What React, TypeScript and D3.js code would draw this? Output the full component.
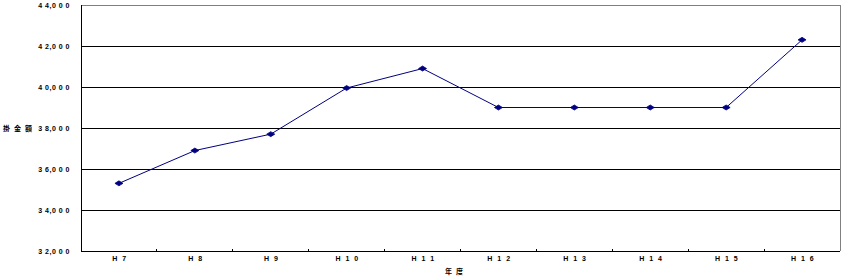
import React from "react";
import * as d3 from "d3";

const categories = ["H7", "H8", "H9", "H10", "H11", "H12", "H13", "H14", "H15", "H16"];
const values = [35300, 36900, 37700, 39950, 40900, 39000, 39000, 39000, 39000, 42300];
const yTicks = [32000, 34000, 36000, 38000, 40000, 42000, 44000];
const yTitle = "掛金額";
const xTitle = "年度";

const W = 844, H = 277;
const m = { left: 81, right: 4, top: 5, bottom: 26 };

function spaced(s: string) {
  return s.split("").join(" ");
}

export default function App() {
  const x = d3.scaleBand().domain(categories).range([m.left, W - m.right]).padding(0);
  const y = d3.scaleLinear().domain([32000, 44000]).range([H - m.bottom, m.top]);
  const line = d3.line<number>()
    .x((_, i) => (x(categories[i]) as number) + x.bandwidth() / 2)
    .y((d) => y(d));
  const font = "'Liberation Sans', Arial, sans-serif";
  const bounds = categories.map((c) => x(c) as number).slice(1);
  return (
    <svg width={W} height={H} style={{ position: "absolute", left: 0, top: 0, background: "#fff" }}>
      <rect x={0} y={0} width={W} height={H} fill="#fff" />
      {yTicks.map((t) => (
        <line key={t} x1={m.left} x2={W - m.right} y1={y(t)} y2={y(t)}
          stroke={t === 44000 ? "#808080" : "#000"} strokeWidth={1} shapeRendering="crispEdges" />
      ))}
      <line x1={W - m.right} x2={W - m.right} y1={m.top} y2={H - m.bottom} stroke="#808080" shapeRendering="crispEdges" />
      <line x1={m.left} x2={m.left} y1={m.top} y2={H - m.bottom} stroke="#000" shapeRendering="crispEdges" />
      <line x1={m.left} x2={W - m.right} y1={H - m.bottom} y2={H - m.bottom} stroke="#000" shapeRendering="crispEdges" />
      {bounds.map((b, i) => (
        <line key={i} x1={b} x2={b} y1={H - m.bottom} y2={H - m.bottom - 2} stroke="#000" shapeRendering="crispEdges" />
      ))}
      {yTicks.map((t) => (
        <text key={t} x={70} y={y(t) + 2.5} textAnchor="end" fontFamily={font} fontSize={7}
          fontWeight="bold" letterSpacing={0.5} fill="#000">
          {spaced(d3.format(",")(t).replace(",", "\u2009"))
            .replace(/ \u2009 /, ",")}
        </text>
      ))}
      {categories.map((c) => (
        <text key={c} x={(x(c) as number) + x.bandwidth() / 2 + 1} y={261} textAnchor="middle"
          fontFamily={font} fontSize={7} fontWeight="bold" letterSpacing={1.5} fill="#000">
          {spaced(c)}
        </text>
      ))}
      <text x={3} y={131} textAnchor="start" fontFamily="'Noto Sans CJK JP', sans-serif" fontSize={7}
        fontWeight="bold" letterSpacing={4}>{yTitle}</text>
      <text x={456} y={274} textAnchor="middle" fontFamily="'Noto Sans CJK JP', sans-serif" fontSize={7}
        fontWeight="bold" letterSpacing={4}>{xTitle}</text>
      <path d={line(values) as string} fill="none" stroke="#000080" strokeWidth={1} />
      {values.map((v, i) => {
        const cx = (x(categories[i]) as number) + x.bandwidth() / 2;
        const cy = y(v);
        return (
          <path key={i} d={`M${cx - 4},${cy} L${cx},${cy - 2.5} L${cx + 4},${cy} L${cx},${cy + 2.5} Z`}
            fill="#000080" stroke="#000080" strokeWidth={0.8} />
        );
      })}
    </svg>
  );
}
